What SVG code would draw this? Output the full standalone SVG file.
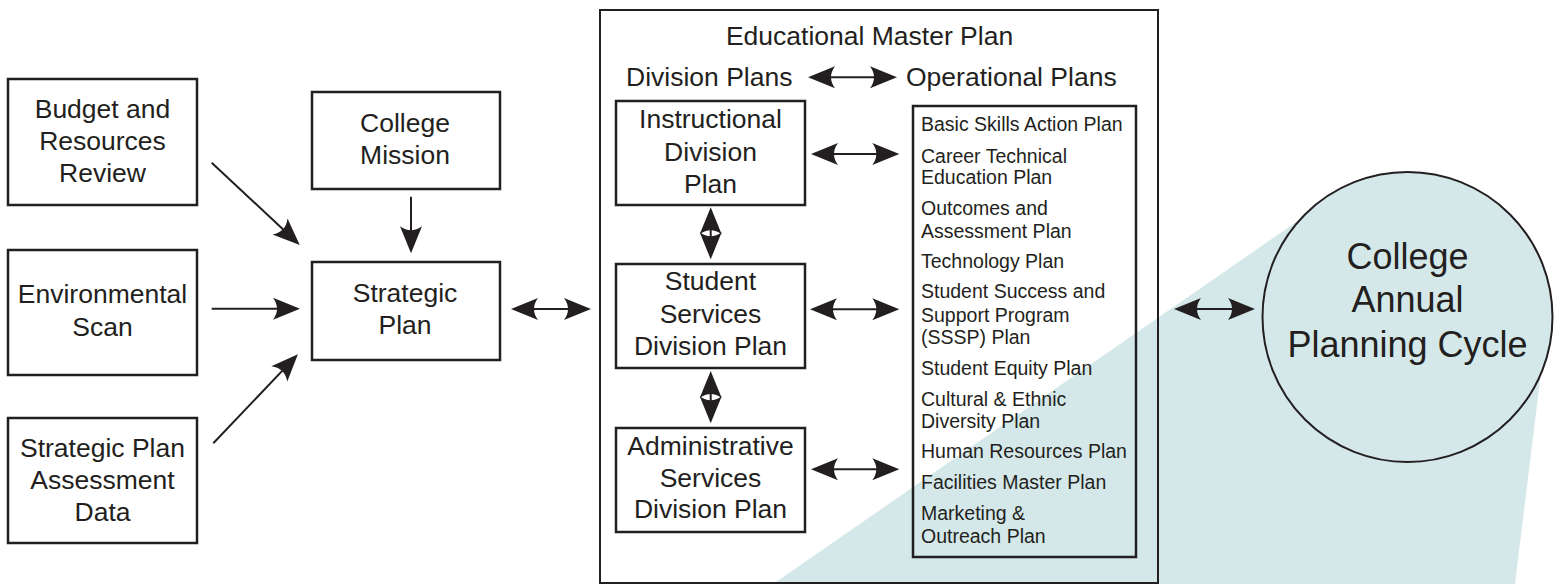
<svg xmlns="http://www.w3.org/2000/svg" width="1561" height="584" viewBox="0 0 1561 584">
<style>
.box{fill:none;stroke:#231f20;stroke-width:2.5}
.frame{fill:none;stroke:#231f20;stroke-width:2}
.t{font-family:"Liberation Sans",Arial,sans-serif;font-size:26.5px;fill:#231f20;text-anchor:middle}
.h{font-family:"Liberation Sans",Arial,sans-serif;font-size:26.5px;fill:#231f20}
.l{font-family:"Liberation Sans",Arial,sans-serif;font-size:19.5px;fill:#231f20}
.c{font-family:"Liberation Sans",Arial,sans-serif;font-size:36px;fill:#231f20;text-anchor:middle}
.ln{stroke:#231f20;stroke-width:2;fill:none}
.one{marker-end:url(#ah)}
.two{marker-start:url(#ah);marker-end:url(#ah)}
</style>
<defs>
<marker id="ah" viewBox="-29 -12 31 24" refX="-8" refY="0" markerWidth="31" markerHeight="24" markerUnits="userSpaceOnUse" orient="auto-start-reverse">
<path d="M0,0 L-27,-11 Q-19,0 -27,11 Z" fill="#231f20"/>
</marker>
</defs>
<rect width="1561" height="584" fill="#ffffff"/>
<g id="teal-background">
<polygon points="1296.7,221.7 773,584 1515,584 1541.7,366.7 1407,317" fill="#d5e8e9"/>
</g>
<g id="budget">
<rect class="box" x="8" y="79" width="189" height="126"/>
<text class="t" x="102.5" y="117.7">Budget and</text>
<text class="t" x="102.5" y="150">Resources</text>
<text class="t" x="102.5" y="181.7">Review</text>
</g>
<g id="environmental">
<rect class="box" x="8" y="250" width="189" height="125"/>
<text class="t" x="102.5" y="303.3">Environmental</text>
<text class="t" x="102.5" y="335.7">Scan</text>
</g>
<g id="assessment">
<rect class="box" x="8" y="418" width="189" height="125"/>
<text class="t" x="102.5" y="456.7">Strategic Plan</text>
<text class="t" x="102.5" y="489">Assessment</text>
<text class="t" x="102.5" y="521">Data</text>
</g>
<g id="mission">
<rect class="box" x="312" y="92" width="188" height="97"/>
<text class="t" x="405" y="131.7">College</text>
<text class="t" x="405" y="164.3">Mission</text>
</g>
<g id="strategic">
<rect class="box" x="312" y="262" width="188" height="98"/>
<text class="t" x="405" y="302.3">Strategic</text>
<text class="t" x="405" y="334.3">Plan</text>
</g>
<g id="emp">
<rect class="frame" x="600" y="10" width="558" height="573"/>
<text class="t" x="869.5" y="45">Educational Master Plan</text>
<text class="h" x="626" y="86">Division Plans</text>
<text class="h" x="906" y="86">Operational Plans</text>
</g>
<g id="instructional">
<rect class="box" x="616" y="101" width="189" height="104"/>
<text class="t" x="710.5" y="128.3">Instructional</text>
<text class="t" x="710.5" y="161">Division</text>
<text class="t" x="710.5" y="192.7">Plan</text>
</g>
<g id="student-services">
<rect class="box" x="616" y="264" width="189" height="104"/>
<text class="t" x="710.5" y="290">Student</text>
<text class="t" x="710.5" y="323.3">Services</text>
<text class="t" x="710.5" y="355">Division Plan</text>
</g>
<g id="administrative">
<rect class="box" x="616" y="428" width="189" height="104"/>
<text class="t" x="710.5" y="455">Administrative</text>
<text class="t" x="710.5" y="486.7">Services</text>
<text class="t" x="710.5" y="518.3">Division Plan</text>
</g>
<g id="operational-plans">
<rect class="box" x="913" y="106" width="223" height="451"/>
<text class="l" x="921" y="131">Basic Skills Action Plan</text>
<text class="l" x="921" y="162.7">Career Technical</text>
<text class="l" x="921" y="184.3">Education Plan</text>
<text class="l" x="921" y="215">Outcomes and</text>
<text class="l" x="921" y="237.7">Assessment Plan</text>
<text class="l" x="921" y="268.3">Technology Plan</text>
<text class="l" x="921" y="298">Student Success and</text>
<text class="l" x="921" y="322.3">Support Program</text>
<text class="l" x="921" y="344.3">(SSSP) Plan</text>
<text class="l" x="921" y="375">Student Equity Plan</text>
<text class="l" x="921" y="405.7">Cultural &amp; Ethnic</text>
<text class="l" x="921" y="427.7">Diversity Plan</text>
<text class="l" x="921" y="458.3">Human Resources Plan</text>
<text class="l" x="921" y="489">Facilities Master Plan</text>
<text class="l" x="921" y="520">Marketing &amp;</text>
<text class="l" x="921" y="543.3">Outreach Plan</text>
</g>
<g id="cycle">
<circle cx="1407.5" cy="317" r="145" fill="#d5e8e9" stroke="#231f20" stroke-width="2"/>
<text class="c" x="1407.5" y="269">College</text>
<text class="c" x="1407.5" y="312">Annual</text>
<text class="c" x="1407.5" y="357">Planning Cycle</text>
</g>
<g id="connectors">
<line class="ln one" x1="211.7" y1="162.7" x2="293.9" y2="239.5"/>
<line class="ln one" x1="211.7" y1="308.7" x2="292" y2="308.7"/>
<line class="ln one" x1="213.3" y1="443.3" x2="292.4" y2="360.1"/>
<line class="ln one" x1="411" y1="196.7" x2="411" y2="245.3"/>
<line class="ln two" x1="519" y1="309" x2="583" y2="309"/>
<line class="ln two" x1="816" y1="77.3" x2="889" y2="77.3"/>
<line class="ln two" x1="819" y1="154" x2="891.3" y2="154"/>
<line class="ln two" x1="818" y1="309.3" x2="891.3" y2="309.3"/>
<line class="ln two" x1="819" y1="469.3" x2="891.3" y2="469.3"/>
<line class="ln two" x1="710.7" y1="215.3" x2="710.7" y2="251.3"/>
<line class="ln two" x1="710.7" y1="379" x2="710.7" y2="415.3"/>
<line class="ln two" x1="1182" y1="309.1" x2="1247" y2="309.1"/>
</g>
</svg>
